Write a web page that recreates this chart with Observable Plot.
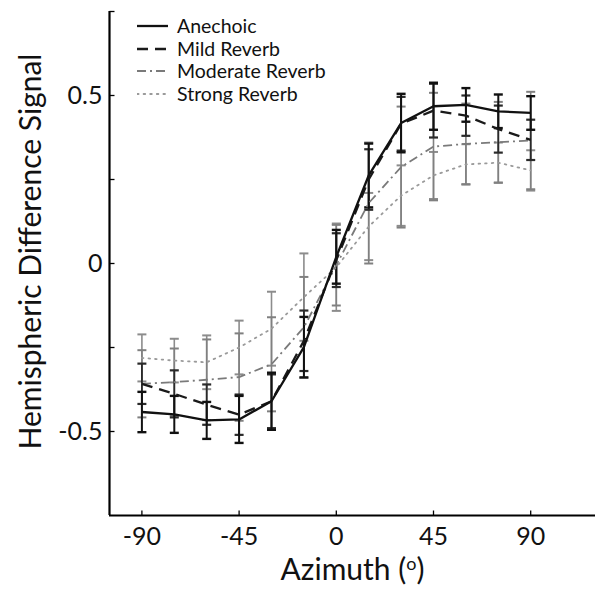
<!DOCTYPE html>
<html><head><meta charset="utf-8">
<script src="https://cdn.jsdelivr.net/npm/d3@7"></script>
<script src="https://cdn.jsdelivr.net/npm/@observablehq/plot@0.6"></script>
<style>
body{margin:0;background:#fff;}
#wrap{position:relative;width:595px;height:596px;font-family:Lato,"Open Sans",sans-serif;}
#legend{position:absolute;left:137px;top:15px;}
.row{display:flex;align-items:center;height:22.5px;font-size:19.5px;color:#111;line-height:22px;}
.row svg{margin-right:9px;flex:none;}
</style></head><body>
<div id="wrap"><div id="chart"></div><div id="legend"></div></div>
<script>
// ---- data ----
const azimuth = [-90, -75, -60, -45, -30, -15, 0, 15, 30, 45, 60, 75, 90];
const seriesNames = ["Anechoic", "Mild Reverb", "Moderate Reverb", "Strong Reverb"];
const anechoic    = [-0.442, -0.449, -0.467, -0.464, -0.410, -0.249, 0.020, 0.262, 0.418, 0.468, 0.472, 0.453, 0.448];
const anechoicErr = [0.060, 0.055, 0.055, 0.070, 0.085, 0.090, 0.080, 0.095, 0.087, 0.070, 0.050, 0.050, 0.050];
const mild        = [-0.358, -0.388, -0.420, -0.450, -0.410, -0.230, 0.010, 0.250, 0.416, 0.455, 0.440, 0.400, 0.368];
const mildErr     = [0.060, 0.070, 0.060, 0.060, 0.080, 0.090, 0.080, 0.090, 0.080, 0.080, 0.060, 0.070, 0.060];
const moderate    = [-0.358, -0.353, -0.346, -0.338, -0.300, -0.190, -0.005, 0.180, 0.287, 0.348, 0.356, 0.361, 0.366];
const moderateErr = [0.100, 0.100, 0.120, 0.130, 0.140, 0.150, 0.120, 0.180, 0.180, 0.160, 0.120, 0.120, 0.145];
const strong      = [-0.281, -0.289, -0.294, -0.250, -0.194, -0.100, -0.011, 0.110, 0.202, 0.262, 0.295, 0.300, 0.277];
const strongErr   = [0.070, 0.065, 0.080, 0.080, 0.110, 0.130, 0.130, 0.100, 0.090, 0.070, 0.060, 0.060, 0.060];
const xTicks = [-90, -45, 0, 45, 90];
const yTickLabels = [-0.5, 0, 0.5];
const yTickMarks = [-0.5, -0.25, 0, 0.25, 0.5, 0.75];
const xDomain = [-105, 120];
const yDomain = [-0.75, 0.75];
const xTitle = "Azimuth (o)";
const yTitle = "Hemispheric Difference Signal";

// ---- styles ----
const styles = {
  "Anechoic":        {line: "#111", bar: "#111", dash: null,        lw: 2.3, bw: 2.0},
  "Mild Reverb":     {line: "#1a1a1a", bar: "#2a2a2a", dash: "11,7", lw: 2.3, bw: 1.8},
  "Moderate Reverb": {line: "#7a7a7a", bar: "#808080", dash: "9,4,2,4", lw: 1.8, bw: 1.6},
  "Strong Reverb":   {line: "#9a9a9a", bar: "#8c8c8c", dash: "1.6,5", lw: 1.8, bw: 1.6}
};
const valuesBy = {"Anechoic": [anechoic, anechoicErr], "Mild Reverb": [mild, mildErr],
  "Moderate Reverb": [moderate, moderateErr], "Strong Reverb": [strong, strongErr]};

const rows = seriesNames.flatMap(s => azimuth.map((az, i) => ({series: s, az, v: valuesBy[s][0][i], e: valuesBy[s][1][i]})));

const hLine = {draw(ctx, size) { const r = Math.sqrt(size / Math.PI); ctx.moveTo(-r, 0); ctx.lineTo(r, 0); }};
const vLine = {draw(ctx, size) { const r = Math.sqrt(size / Math.PI); ctx.moveTo(0, -r); ctx.lineTo(0, r); }};

const marks = [];
for (const s of [...seriesNames].reverse()) {
  const d = rows.filter(r => r.series === s);
  const st = styles[s];
  marks.push(Plot.ruleX(d, {x: "az", y1: r => r.v - r.e, y2: r => r.v + r.e, stroke: st.bar, strokeWidth: st.bw}));
  marks.push(Plot.dot(d, {x: "az", y: r => r.v + r.e, symbol: hLine, r: 4.5, stroke: st.bar, strokeWidth: st.bw + 0.4, fill: "none"}));
  marks.push(Plot.dot(d, {x: "az", y: r => r.v - r.e, symbol: hLine, r: 4.5, stroke: st.bar, strokeWidth: st.bw + 0.4, fill: "none"}));
}
for (const s of [...seriesNames].reverse()) {
  const d = rows.filter(r => r.series === s);
  const st = styles[s];
  marks.push(Plot.line(d, {x: "az", y: "v", stroke: st.line, strokeWidth: st.lw, strokeDasharray: st.dash, strokeLinecap: s === "Strong Reverb" ? "round" : "butt", curve: "linear"}));
}
// axes
marks.push(Plot.ruleX([xDomain[0]], {stroke: "#000", strokeWidth: 2.2}));
marks.push(Plot.ruleY([yDomain[0]], {stroke: "#000", strokeWidth: 2.2}));
marks.push(Plot.dot(yTickMarks, {x: () => xDomain[0], y: d => d, symbol: hLine, r: 2.5, dx: 2.5, stroke: "#000", strokeWidth: 1.3}));
marks.push(Plot.dot(xTicks, {x: d => d, y: () => yDomain[0], symbol: vLine, r: 2.5, dy: -2.5, stroke: "#000", strokeWidth: 1.3}));
marks.push(Plot.axisX({ticks: xTicks, tickSize: 0, tickPadding: 12, tickFormat: d => String(d), fontSize: 25, label: null}));
marks.push(Plot.axisY({ticks: yTickLabels, tickSize: 0, tickPadding: 7, tickFormat: d => String(d), fontSize: 25, label: null}));
marks.push(Plot.text([xTitle], {text: d => d, frameAnchor: "bottom", dy: 64, fontSize: 30, fill: "#111"}));
marks.push(Plot.text([yTitle], {text: d => d, frameAnchor: "left", textAnchor: "middle", dx: -78, dy: -12, rotate: -90, fontSize: 30, fill: "#111"}));

const chart = Plot.plot({
  width: 595, height: 596,
  marginLeft: 109, marginRight: 0, marginTop: 11, marginBottom: 81,
  x: {domain: xDomain},
  y: {domain: yDomain},
  style: {fontFamily: "Lato, 'Open Sans', sans-serif", color: "#111", background: "#fff", overflow: "visible"},
  marks
});
document.getElementById("chart").appendChild(chart);

// superscript "o" in the x title
chart.querySelectorAll("text").forEach(t => {
  if (t.textContent === xTitle) {
    const ns = "http://www.w3.org/2000/svg";
    t.textContent = "";
    const a = document.createElementNS(ns, "tspan"); a.textContent = "Azimuth (";
    const b = document.createElementNS(ns, "tspan"); b.textContent = "o"; b.setAttribute("font-size", "18"); b.setAttribute("dy", "-10");
    const c = document.createElementNS(ns, "tspan"); c.textContent = ")"; c.setAttribute("dy", "10");
    t.append(a, b, c);
  }
});

// legend
const legend = document.getElementById("legend");
for (const s of seriesNames) {
  const st = styles[s];
  const row = document.createElement("div");
  row.className = "row";
  row.innerHTML = `<svg width="31" height="10"><line x1="0" x2="31" y1="5" y2="5" stroke="${st.line}" stroke-width="${st.lw}" ${st.dash ? `stroke-dasharray="${st.dash}"` : ""} stroke-linecap="${s === "Strong Reverb" ? "round" : "butt"}"/></svg><span>${s}</span>`;
  legend.appendChild(row);
}
</script>
</body></html>
